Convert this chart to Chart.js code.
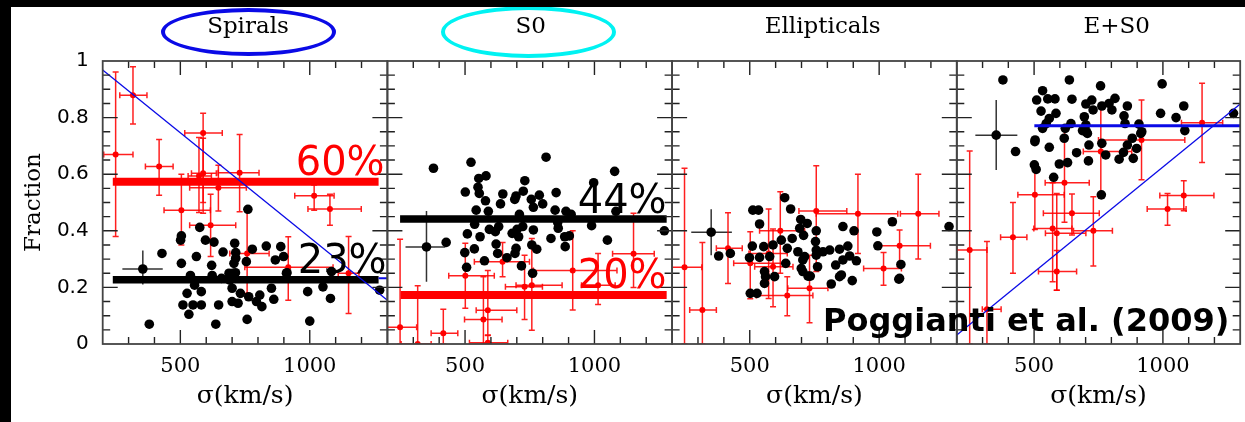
<!DOCTYPE html>
<html><head><meta charset="utf-8">
<script src="https://cdn.jsdelivr.net/npm/chart.js@4.4.1/dist/chart.umd.min.js"></script>
<style>
html,body{margin:0;padding:0;background:#fff;}
#wrap{position:relative;width:1245px;height:422px;overflow:hidden;background:#fff;}
canvas{position:absolute;left:0;top:0;}
.t{position:absolute;white-space:nowrap;line-height:1;}
.ttl{font-family:'DejaVu Serif',serif;font-size:23px;color:#000;text-align:center;width:300px;}
.pct{font-family:'DejaVu Sans',sans-serif;font-size:40px;}
.ell{position:absolute;box-sizing:border-box;border-radius:50%;border-style:solid;border-width:4px;}
.band{position:absolute;background:#000;z-index:5;}
</style></head>
<body><div id="wrap">
<canvas id="c0" width="1245" height="422"></canvas>
<canvas id="c1" width="1245" height="422"></canvas>
<canvas id="c2" width="1245" height="422"></canvas>
<canvas id="c3" width="1245" height="422"></canvas>
<div class="ell" style="left:161px;top:8px;width:175px;height:48px;border-color:#0a0ae6;"></div>
<div class="ell" style="left:441px;top:6px;width:175px;height:52px;border-color:#00f2f2;"></div>
<div class="t ttl" id="t0" style="left:98px;top:13.5px;"></div>
<div class="t ttl" id="t1" style="left:380.7px;top:13.5px;"></div>
<div class="t ttl" id="t2" style="left:672.7px;top:13.5px;"></div>
<div class="t ttl" id="t3" style="left:966.7px;top:13.5px;"></div>
<div class="t pct" id="p60" style="right:860.4px;top:141.2px;color:#ff0000;"></div>
<div class="t pct" id="p23" style="right:858.4px;top:238.7px;color:#000;"></div>
<div class="t pct" id="p44" style="right:578.4px;top:179.2px;color:#000;"></div>
<div class="t pct" id="p20" style="right:578.4px;top:253.7px;color:#ff0000;"></div>
<div class="t" id="cite" style="left:823px;top:304.4px;font-family:'DejaVu Sans',sans-serif;font-weight:bold;font-size:32px;color:#000;"></div>
<div class="band" style="left:0;top:0;width:1245px;height:7px;"></div>
<div class="band" style="left:0;top:0;width:11px;height:422px;"></div>
</div>
<script>
// ---------- DATA ----------
const panelTitles = ['Spirals', 'S0', 'Ellipticals', 'E+S0'];
const xTitle = 'σ(km/s)';
const yTitle = 'Fraction';
const xLabelTicks = [500, 1000];
const yLabelTicks = [0, 0.2, 0.4, 0.6, 0.8, 1];
const xMinorTicks = [300, 400, 500, 600, 700, 800, 900, 1000, 1100, 1200];
const xMajorTicks = [500, 1000];
const yMinorTicks = [0.05, 0.1, 0.15, 0.2, 0.25, 0.3, 0.35, 0.4, 0.45, 0.5, 0.55, 0.6, 0.65, 0.7, 0.75, 0.8, 0.85, 0.9, 0.95];
const yMajorTicks = [0.2, 0.4, 0.6, 0.8];
const percentLabels = {p60: '60%', p23: '23%', p44: '44%', p20: '20%'};
const citation = 'Poggianti et al. (2009)';

// black dots [sigma, fraction]
const spiralsDots = [[761,0.476],[575,0.412],[504,0.382],[501,0.367],[597,0.367],[630,0.36],[710,0.356],[429,0.32],[562,0.309],[504,0.285],[621,0.278],[665,0.325],[714,0.323],[778,0.335],[832,0.346],[888,0.344],[899,0.309],[867,0.297],[714,0.303],[707,0.285],[755,0.291],[539,0.242],[623,0.242],[688,0.25],[713,0.252],[912,0.252],[1084,0.256],[703,0.25],[691,0.226],[555,0.208],[581,0.185],[526,0.179],[510,0.138],[549,0.138],[581,0.138],[533,0.105],[648,0.138],[637,0.07],[380,0.07],[700,0.15],[723,0.144],[732,0.179],[764,0.167],[794,0.15],[807,0.173],[815,0.132],[758,0.087],[852,0.197],[861,0.158],[700,0.197],[659,0.232],[910,0.25],[992,0.185],[1051,0.202],[1080,0.161],[1000,0.081],[1270,0.19]];
const s0Dots = [[378,0.621],[523,0.642],[813,0.66],[1078,0.61],[553,0.585],[581,0.594],[731,0.577],[997,0.57],[550,0.554],[501,0.537],[555,0.532],[646,0.53],[725,0.54],[852,0.535],[787,0.526],[697,0.523],[579,0.506],[637,0.495],[692,0.511],[756,0.511],[764,0.483],[800,0.495],[543,0.473],[590,0.469],[848,0.473],[890,0.469],[910,0.458],[1083,0.469],[710,0.458],[537,0.423],[594,0.405],[630,0.415],[617,0.397],[723,0.415],[701,0.405],[682,0.391],[707,0.379],[764,0.403],[860,0.409],[858,0.429],[989,0.418],[509,0.389],[558,0.379],[620,0.353],[832,0.373],[885,0.379],[903,0.382],[887,0.344],[1050,0.367],[1270,0.40],[536,0.336],[499,0.323],[626,0.32],[662,0.305],[693,0.32],[758,0.35],[777,0.335],[575,0.294],[506,0.271],[718,0.276],[761,0.25],[427,0.359],[697,0.338]];
const ellDots = [[635,0.517],[512,0.473],[534,0.473],[658,0.477],[538,0.424],[697,0.44],[722,0.426],[693,0.409],[757,0.40],[708,0.384],[622,0.367],[664,0.373],[754,0.362],[860,0.415],[903,0.40],[991,0.396],[1051,0.432],[1270,0.415],[510,0.346],[554,0.344],[590,0.35],[645,0.338],[686,0.326],[705,0.297],[757,0.332],[783,0.326],[809,0.332],[847,0.335],[879,0.346],[995,0.347],[499,0.305],[538,0.306],[577,0.309],[639,0.285],[712,0.309],[757,0.314],[860,0.297],[886,0.311],[912,0.294],[832,0.279],[762,0.273],[699,0.267],[1084,0.281],[854,0.244],[1079,0.232],[557,0.256],[596,0.238],[725,0.24],[380,0.311],[425,0.32],[502,0.179],[528,0.179],[557,0.214],[561,0.238],[705,0.256],[734,0.24],[815,0.212],[847,0.238],[896,0.224],[1076,0.229]];
const es0Dots = [[379,0.933],[637,0.933],[997,0.919],[758,0.912],[533,0.895],[510,0.862],[553,0.866],[581,0.866],[647,0.865],[724,0.862],[814,0.868],[862,0.841],[701,0.848],[791,0.85],[527,0.823],[585,0.815],[729,0.827],[802,0.827],[763,0.841],[1081,0.841],[991,0.815],[1051,0.80],[849,0.806],[559,0.797],[695,0.803],[1274,0.815],[547,0.779],[643,0.779],[701,0.774],[853,0.779],[907,0.777],[533,0.762],[621,0.762],[688,0.754],[707,0.744],[914,0.744],[1085,0.754],[504,0.721],[617,0.727],[881,0.727],[428,0.68],[503,0.715],[559,0.695],[703,0.75],[713,0.703],[763,0.709],[665,0.676],[630,0.641],[598,0.636],[711,0.647],[778,0.668],[830,0.653],[847,0.677],[862,0.703],[898,0.691],[885,0.656],[918,0.75],[501,0.633],[508,0.617],[576,0.589],[761,0.527]];

// red points [sigma, fraction, sigmaLo, sigmaHi, fracLo, fracHi]
const spiralsRed = [[317,0.879,266,371,0.777,0.98],[250,0.67,204,317,0.38,0.961],[588,0.746,517,662,0.50,0.815],[418,0.627,365,472,0.526,0.723],[588,0.603,543,639,0.462,0.727],[572,0.594,530,620,0.465,0.73],[729,0.605,646,804,0.467,0.74],[647,0.552,536,755,0.47,0.632],[504,0.473,437,616,0.35,0.60],[617,0.42,536,714,0.309,0.529],[1017,0.524,942,1094,0.473,0.562],[1078,0.477,993,1199,0.42,0.529],[758,0.32,691,843,0.179,0.477],[917,0.271,749,1090,0.155,0.379],[1150,0.25,1110,1190,0.108,0.38]];
const s0Red = [[249,0.059,195,313,0.0,0.37],[317,0.0,253,369,0.0,0.206],[416,0.038,369,472,0.0,0.123],[501,0.241,437,613,0.126,0.356],[645,0.291,536,749,0.238,0.359],[588,0.119,543,700,0.032,0.26],[571,0.087,498,643,0.0,0.238],[588,0.004,517,665,0.0,0.03],[730,0.202,656,799,0.087,0.314],[758,0.208,697,875,0.049,0.373],[916,0.26,764,1087,0.12,0.40],[1014,0.208,950,1080,0.14,0.32],[1151,0.319,1070,1231,0.2,0.462]];
const ellRed = [[248,0.271,200,315,0.0,0.621],[416,0.338,371,471,0.214,0.464],[317,0.12,268,371,0.0,0.359],[502,0.285,438,645,0.16,0.397],[573,0.32,497,645,0.161,0.477],[590,0.273,519,667,0.132,0.406],[618,0.40,538,712,0.25,0.538],[757,0.47,690,875,0.256,0.63],[918,0.46,757,1072,0.32,0.60],[1151,0.46,1082,1231,0.30,0.60],[1079,0.347,989,1198,0.273,0.403],[1017,0.267,940,1086,0.208,0.323],[645,0.171,525,744,0.10,0.238],[731,0.197,647,802,0.075,0.314]];
const es0Red = [[1152,0.782,1072,1232,0.641,0.921],[917,0.721,750,1085,0.58,0.862],[759,0.68,691,879,0.527,0.839],[618,0.57,543,714,0.43,0.756],[503,0.527,437,617,0.405,0.633],[647,0.462,536,753,0.385,0.53],[572,0.408,499,647,0.22,0.57],[588,0.391,544,701,0.19,0.532],[730,0.40,653,804,0.276,0.52],[418,0.377,370,472,0.25,0.50],[250,0.332,200,317,0.0,0.682],[588,0.256,517,665,0.19,0.33],[1018,0.477,939,1090,0.42,0.532],[1081,0.525,988,1198,0.471,0.577],[317,0.123,299,372,0.0,0.362]];

// reference (black) point with errors [sigma, fraction, sigmaLo, sigmaHi, fracLo, fracHi]
const spiralsRef = [355,0.265,276,432,0.21,0.33];
const s0Ref = [351,0.343,270,424,0.22,0.47];
const ellRef = [351,0.395,274,431,0.314,0.476];
const es0Ref = [353,0.738,272,435,0.615,0.862];

// horizontal levels [fraction, sigmaFrom, sigmaTo]
const spiralsRedLevel = [0.573, 239, 1266];
const spiralsBlackLevel = [0.227, 239, 1266];
const spiralsBlueLevel = [0.232, 1266, 1300];
const s0BlackLevel = [0.442, 249, 1279];
const s0RedLevel = [0.173, 251, 1279];
const es0BlueLevel = [0.771, 501, 1300];

// fitted lines [[sigma, fraction], [sigma, fraction]]
const spiralsFit = [[200, 0.968], [1300, 0.155]];
const es0Fit = [[200, 0.032], [1300, 0.848]];

// ---------- LAYOUT ----------
const W = 1245, H = 422;
const PANEL_LEFT = [102.7, 387.4, 672.1, 956.8];
const PANEL_W = 284.7;
const TOP = 61, XAXIS_H = 78;

const RED = '#ff0000', BLUE = '#0a0ae6';

function lvl(a) { return [{x: a[1], y: a[0]}, {x: a[2], y: a[0]}]; }
function pts(a) { return a.map(p => ({x: p[0], y: p[1]})); }
function lineDs(data, color, width) {
  return {data, showLine: true, borderColor: color, borderWidth: width, pointRadius: 0, fill: false, order: 0};
}

const panels = [
  {dots: spiralsDots, red: spiralsRed, ref: spiralsRef,
   lines: [lineDs(pts(spiralsFit), BLUE, 1.3), lineDs(lvl(spiralsBlueLevel), BLUE, 2),
           lineDs(lvl(spiralsRedLevel), RED, 8), lineDs(lvl(spiralsBlackLevel), '#000', 7.5)]},
  {dots: s0Dots, red: s0Red, ref: s0Ref,
   lines: [lineDs(lvl(s0BlackLevel), '#000', 7.5), lineDs(lvl(s0RedLevel), RED, 8)]},
  {dots: ellDots, red: ellRed, ref: ellRef, lines: []},
  {dots: es0Dots, red: es0Red, ref: es0Ref,
   lines: [lineDs(lvl(es0BlueLevel), BLUE, 3), lineDs(pts(es0Fit), BLUE, 1.3)]}
];

const errorBarPlugin = {
  id: 'errorBars',
  beforeDatasetsDraw(chart) {
    const {ctx, chartArea: a, scales: {x, y}} = chart;
    ctx.save();
    ctx.beginPath(); ctx.rect(a.left, a.top, a.right - a.left, a.bottom - a.top); ctx.clip();
    chart.data.datasets.forEach(ds => {
      if (!ds.errorBars) return;
      ctx.strokeStyle = ds.errorColor; ctx.lineWidth = ds.errorWidth;
      ds.errorBars.forEach(e => {
        const px = x.getPixelForValue(e[0]), py = y.getPixelForValue(e[1]);
        const xl = x.getPixelForValue(e[2]), xh = x.getPixelForValue(e[3]);
        const yl = y.getPixelForValue(e[4]), yh = y.getPixelForValue(e[5]);
        const c = ds.errorCap;
        ctx.beginPath();
        ctx.moveTo(xl, py); ctx.lineTo(xh, py);
        ctx.moveTo(px, yl); ctx.lineTo(px, yh);
        if (c) {
          ctx.moveTo(xl, py - c); ctx.lineTo(xl, py + c);
          ctx.moveTo(xh, py - c); ctx.lineTo(xh, py + c);
          ctx.moveTo(px - c, yl); ctx.lineTo(px + c, yl);
          ctx.moveTo(px - c, yh); ctx.lineTo(px + c, yh);
        }
        ctx.stroke();
      });
    });
    ctx.restore();
  }
};

const framePlugin = {
  id: 'frame',
  afterDatasetsDraw(chart) {
    const {ctx, chartArea: a, scales: {x, y}} = chart;
    ctx.save();
    ctx.strokeStyle = '#222'; ctx.lineWidth = 1.4;
    ctx.beginPath();
    xMinorTicks.forEach(v => {
      const p = x.getPixelForValue(v), len = xMajorTicks.includes(v) ? 14 : 7;
      ctx.moveTo(p, a.top); ctx.lineTo(p, a.top + len);
      ctx.moveTo(p, a.bottom); ctx.lineTo(p, a.bottom - len);
    });
    yMinorTicks.forEach(v => {
      const p = y.getPixelForValue(v), len = yMajorTicks.some(m => Math.abs(m - v) < 1e-9) ? 15 : 7.5;
      ctx.moveTo(a.left, p); ctx.lineTo(a.left + len, p);
      ctx.moveTo(a.right, p); ctx.lineTo(a.right - len, p);
    });
    ctx.stroke();
    ctx.strokeStyle = '#444'; ctx.lineWidth = 1.8;
    ctx.strokeRect(a.left, a.top, a.right - a.left, a.bottom - a.top);
    ctx.restore();
  }
};

panels.forEach((p, i) => {
  const left = PANEL_LEFT[i], right = left + PANEL_W;
  const datasets = [
    ...p.lines,
    {data: pts(p.dots), pointRadius: 4.8, pointBackgroundColor: '#000', pointBorderWidth: 0, order: 1},
    {data: pts([p.ref]), pointRadius: 4.8, pointBackgroundColor: '#000', pointBorderWidth: 0, order: 1,
     errorBars: [p.ref], errorColor: '#333', errorWidth: 1.5, errorCap: 0},
    {data: pts(p.red), pointRadius: 3, pointBackgroundColor: RED, pointBorderWidth: 0, order: 2,
     errorBars: p.red, errorColor: 'rgba(255,0,0,0.88)', errorWidth: 1.5, errorCap: 3}
  ];
  new Chart(document.getElementById('c' + i), {
    type: 'scatter',
    data: {datasets},
    plugins: [errorBarPlugin, framePlugin],
    options: {
      responsive: false, animation: false, events: [],
      layout: {padding: {left: i === 0 ? 0 : left, right: W - right, top: TOP, bottom: 0}},
      plugins: {legend: {display: false}, tooltip: {enabled: false}},
      scales: {
        x: {
          type: 'linear', min: 200, max: 1300, position: 'bottom',
          afterBuildTicks: s => { s.ticks = xLabelTicks.map(v => ({value: v})); },
          afterFit: s => { s.height = XAXIS_H; },
          ticks: {autoSkip: false, maxRotation: 0, padding: 10, color: '#000',
                  font: {family: "'DejaVu Serif', serif", size: 21}, callback: v => String(v)},
          grid: {display: false, drawTicks: false}, border: {display: false},
          title: {display: true, text: xTitle, color: '#000',
                  font: {family: "'DejaVu Serif', serif", size: 25}, padding: {top: 0, bottom: 11}}
        },
        y: {
          type: 'linear', min: 0, max: 1, position: 'left', display: i === 0,
          afterBuildTicks: s => { s.ticks = yLabelTicks.map(v => ({value: v})); },
          afterFit: s => { s.width = i === 0 ? PANEL_LEFT[0] : 0; },
          ticks: {padding: 14, color: '#000', font: {family: "'DejaVu Sans', sans-serif", size: 20},
                  callback: v => (v === 0 ? '0' : v === 1 ? '1' : v.toFixed(1))},
          grid: {display: false, drawTicks: false}, border: {display: false},
          title: {display: true, text: yTitle, color: '#000',
                  font: {family: "'DejaVu Serif', serif", size: 23}, padding: {top: 20, bottom: 0}}
        }
      }
    }
  });
  document.getElementById('t' + i).textContent = panelTitles[i];
});
Object.keys(percentLabels).forEach(k => { document.getElementById(k).textContent = percentLabels[k]; });
document.getElementById('cite').textContent = citation;
</script>
</body></html>
